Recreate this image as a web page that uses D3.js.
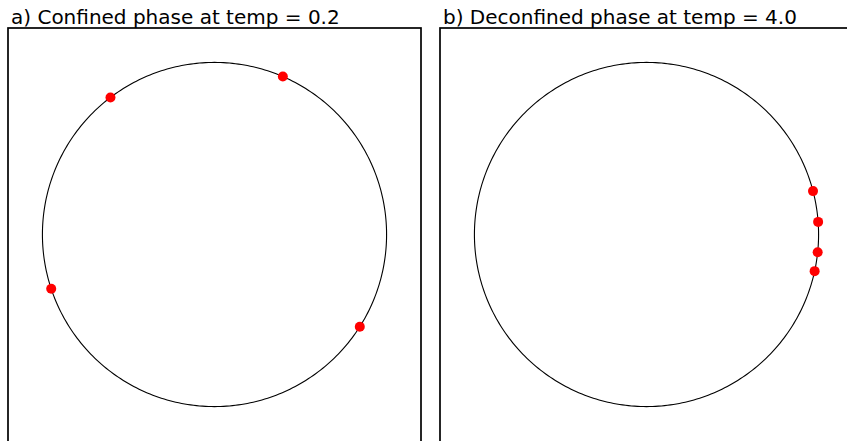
<!DOCTYPE html>
<html><head><meta charset="utf-8">
<script src="https://cdn.jsdelivr.net/npm/d3@7"></script>
<style>body{margin:0;background:#fff;} svg{display:block;}</style>
</head><body>
<svg id="c" width="847" height="441"></svg>
<script>
// Data: angles (degrees) of points on the unit circle
const panelTitles = ["a) Confined phase at temp = 0.2", "b) Deconfined phase at temp = 4.0"];
const confinedAngles = [127.2, 66.6, 198.4, 327.6];
const deconfinedAngles = [14.6, 4.2, -5.9, -12.3];
const axisDomain = [-1.2, 1.2];

(function(){
const svg = d3.select("#c");
const panels = [
  {title: panelTitles[0], angles: confinedAngles, left: 8},
  {title: panelTitles[1], angles: deconfinedAngles, left: 440}
];
const size = 413, topY = 28;

panels.forEach(p => {
  const x = d3.scaleLinear().domain(axisDomain).range([p.left, p.left + size]);
  const y = d3.scaleLinear().domain(axisDomain).range([topY + size, topY]);
  const g = svg.append("g");
  const ring = d3.range(0, 361, 1).map(a => [Math.cos(a*Math.PI/180), Math.sin(a*Math.PI/180)]);
  g.append("path").datum(ring)
    .attr("d", d3.line().x(d => x(d[0])).y(d => y(d[1])))
    .attr("fill", "none").attr("stroke", "#000").attr("stroke-width", 1.1);
  g.selectAll("circle.pt").data(p.angles).join("circle")
    .attr("class", "pt")
    .attr("cx", a => x(Math.cos(a*Math.PI/180)))
    .attr("cy", a => y(Math.sin(a*Math.PI/180)))
    .attr("r", 5).attr("fill", "#ff0000");
  g.append("rect").attr("x", p.left).attr("y", topY).attr("width", size).attr("height", size + 10)
    .attr("fill", "none").attr("stroke", "#000").attr("stroke-width", 1.7);
  g.append("text").attr("x", p.left + 3).attr("y", 24)
    .attr("font-family", "DejaVu Sans").attr("font-size", 20)
    .attr("fill", "#000").text(p.title);
});
})();
</script>
</body></html>
